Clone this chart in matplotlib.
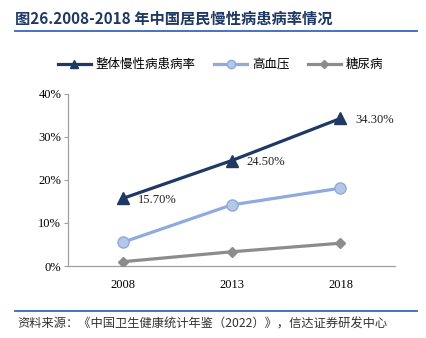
import numpy as np
import matplotlib
matplotlib.use("Agg")
import matplotlib.pyplot as plt
from matplotlib.lines import Line2D

# 数据
years = ["2008", "2013", "2018"]
zhengti = [15.7, 24.5, 34.3]      # 整体慢性病患病率
gaoxueya = [5.5, 14.2, 18.1]      # 高血压
tangniao = [1.0, 3.3, 5.3]        # 糖尿病
yticks = [0, 10, 20, 30, 40]

cjk = ["Noto Sans CJK SC", "DejaVu Sans"]
serif = ["Liberation Serif", "DejaVu Serif"]

navy = "#1F3864"
lightblue = "#8FAADC"
lightfill = "#B4C7E7"
gray = "#8C8C8C"

fig = plt.figure(figsize=(4.26, 3.38), dpi=100)
ax = fig.add_axes([0.16, 0.213, 0.767, 0.509])

x = np.arange(len(years))
ax.plot(x, tangniao, color=gray, lw=2.3, marker="D", ms=5.5,
        mfc=gray, mec=gray, zorder=3)
ax.plot(x, gaoxueya, color=lightblue, lw=2.3, marker="o", ms=8,
        mfc=lightfill, mec=lightblue, mew=1, zorder=3)
ax.plot(x, zhengti, color=navy, lw=2.3, marker="^", ms=9,
        mfc=navy, mec=navy, zorder=4)

# 数据标签
for xi, v in zip(x, zhengti):
    ax.annotate(f"{v:.2f}%", (xi, v), xytext=(11, -1), textcoords="offset points",
                ha="left", va="center", fontsize=9, family=serif, color="#222222")

ax.set_xlim(-0.5, 2.5)
ax.set_ylim(0, 40)
ax.set_xticks(x)
ax.set_xticklabels(years, family=serif, fontsize=9)
ax.set_yticks(yticks)
ax.set_yticklabels([f"{t}%" for t in yticks], family=serif, fontsize=9)
ax.tick_params(axis="x", length=0, pad=9)
ax.tick_params(axis="y", length=3, width=0.8, color="#A0A0A0", pad=2)
for s in ["top", "right"]:
    ax.spines[s].set_visible(False)
for s in ["left", "bottom"]:
    ax.spines[s].set_color("#A0A0A0")
    ax.spines[s].set_linewidth(0.9)

# 图例
handles = [
    Line2D([], [], color=navy, lw=2.3, marker="^", ms=6, mfc=navy, mec=navy),
    Line2D([], [], color=lightblue, lw=2.3, marker="o", ms=6, mfc=lightfill, mec=lightblue),
    Line2D([], [], color=gray, lw=2.3, marker="D", ms=4, mfc=gray, mec=gray),
]
labels = ["整体慢性病患病率", "高血压", "糖尿病"]
fig.legend(handles, labels, loc="center", bbox_to_anchor=(0.518, 0.808), ncol=3,
           frameon=False, prop={"family": cjk, "size": 9}, handlelength=2.6,
           handletextpad=0.4, columnspacing=1.5)

# 标题与来源
fig.text(0.036, 0.946, "图26.2008-2018 年中国居民慢性病患病率情况", family=cjk,
         fontsize=11, fontweight="bold", color=navy, ha="left", va="center")
fig.add_artist(Line2D([0.035, 0.98], [0.907, 0.907], color="#4472C4", lw=1.4,
                      transform=fig.transFigure))
fig.add_artist(Line2D([0.035, 0.98], [0.081, 0.081], color="#4472C4", lw=1.4,
                      transform=fig.transFigure))
fig.text(0.04, 0.042, "资料来源：《中国卫生健康统计年鉴（2022）》，信达证券研发中心",
         family=cjk, fontsize=8.8, color="#333333", ha="left", va="center")

fig.savefig("out.png", dpi=100)
